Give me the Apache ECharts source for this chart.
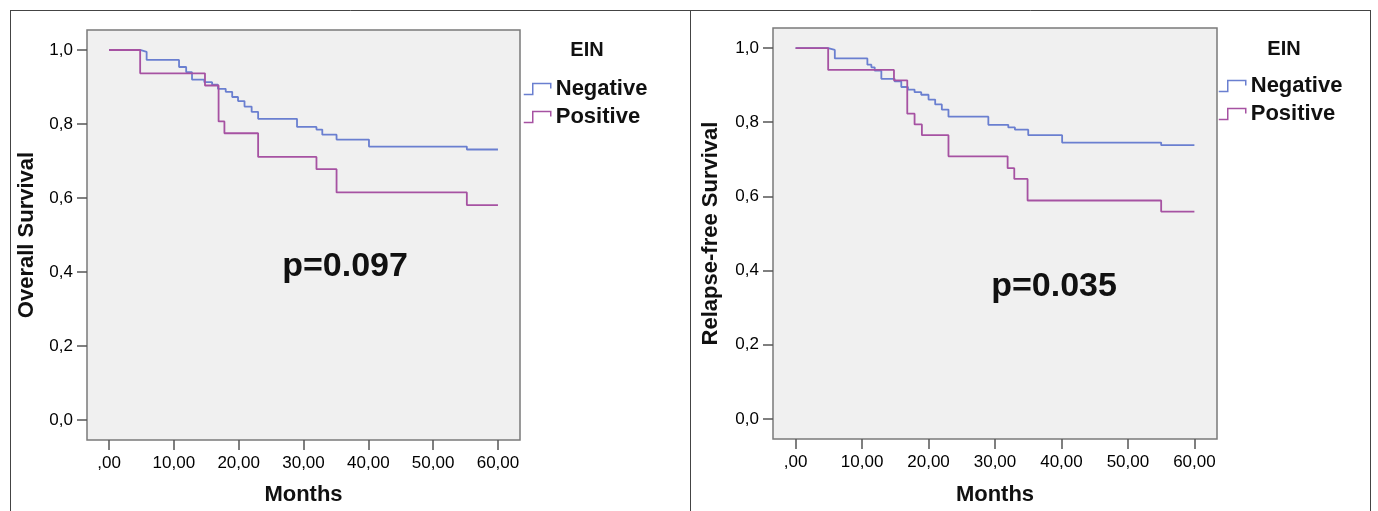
<!DOCTYPE html>
<html>
<head>
<meta charset="utf-8">
<script src="https://cdn.jsdelivr.net/npm/echarts@6/dist/echarts.min.js"></script>
<style>
html,body{margin:0;padding:0;background:#fff;}
#chart{width:1378px;height:511px;}
</style>
</head>
<body>
<div id="chart"></div>
<script>
// ---- data ----
const groups = ['Negative', 'Positive'];
const xTicks = [0, 10, 20, 30, 40, 50, 60];
const xTickLabels = [',00', '10,00', '20,00', '30,00', '40,00', '50,00', '60,00'];
const yTicks = [0, 0.2, 0.4, 0.6, 0.8, 1.0];
const yTickLabels = ['0,0', '0,2', '0,4', '0,6', '0,8', '1,0'];

// Overall survival (left panel)
const osNegT = [0, 4.8, 5.8, 10.8, 11.9, 12.8, 14.7, 15.9, 16.8, 18.0, 19.0, 19.9, 20.9, 22.0, 23.0, 29.0, 32.0, 32.9, 35.1, 40.1, 55.2, 60.0];
const osNegS = [1.0, 0.995, 0.973, 0.954, 0.940, 0.920, 0.913, 0.906, 0.895, 0.887, 0.873, 0.862, 0.847, 0.833, 0.814, 0.792, 0.785, 0.771, 0.758, 0.739, 0.731, 0.731];
const osPosT = [0, 4.8, 14.8, 16.9, 17.8, 23.0, 32.0, 35.1, 55.2, 60.0];
const osPosS = [1.0, 0.937, 0.904, 0.807, 0.775, 0.711, 0.678, 0.615, 0.581, 0.581];

// Relapse-free survival (right panel)
const rfsNegT = [0, 4.9, 5.9, 10.8, 11.4, 11.9, 12.9, 14.9, 15.9, 16.9, 17.9, 18.9, 20.0, 21.0, 22.0, 23.0, 29.0, 32.0, 33.0, 35.0, 40.1, 55.0, 60.0];
const rfsNegS = [1.0, 0.995, 0.972, 0.955, 0.948, 0.939, 0.917, 0.910, 0.895, 0.888, 0.881, 0.874, 0.861, 0.848, 0.834, 0.815, 0.793, 0.786, 0.780, 0.765, 0.745, 0.738, 0.738];
const rfsPosT = [0, 4.9, 14.8, 16.8, 17.9, 19.0, 23.0, 31.9, 32.9, 34.9, 55.0, 60.0];
const rfsPosS = [1.0, 0.941, 0.913, 0.823, 0.794, 0.765, 0.708, 0.676, 0.647, 0.589, 0.559, 0.559];

const pLeft = 'p=0.097';
const pRight = 'p=0.035';
const yTitles = ['Overall Survival', 'Relapse-free Survival'];
const xTitle = 'Months';
const legendTitle = 'EIN';

// ---- styling ----
const FONT = "'Liberation Sans', Arial, sans-serif";
const NEG = '#6a7fd0';
const POS = '#a652a2';
const zip = (t, s) => t.map((v, i) => [v, s[i]]);
const near = (arr, v) => arr.findIndex(a => Math.abs(a - v) < 1e-6);

function xAxis(gi) {
  return {
    type: 'value', gridIndex: gi, min: -3.4, max: 63.4,
    name: xTitle, nameLocation: 'middle', nameGap: gi === 0 ? 44 : 45,
    nameTextStyle: { fontFamily: FONT, fontSize: 22, fontWeight: 'bold', color: '#111' },
    axisLine: { show: false, onZero: false },
    splitLine: { show: false },
    axisTick: { show: true, customValues: xTicks, length: 10, lineStyle: { color: '#555', width: 1.5 } },
    axisLabel: {
      customValues: xTicks, margin: 15, fontFamily: FONT, fontSize: 17, color: '#000',
      formatter: v => xTickLabels[near(xTicks, v)]
    }
  };
}
function yAxis(gi) {
  return {
    type: 'value', gridIndex: gi, min: -0.054, max: 1.054,
    name: yTitles[gi], nameLocation: 'middle', nameRotate: 90, nameGap: gi === 0 ? 49 : 51,
    nameTextStyle: { fontFamily: FONT, fontSize: 22, fontWeight: 'bold', color: '#111' },
    axisLine: { show: false, onZero: false },
    splitLine: { show: false },
    axisTick: { show: true, customValues: yTicks, length: 10, lineStyle: { color: '#555', width: 1.5 } },
    axisLabel: {
      customValues: yTicks, margin: 14, fontFamily: FONT, fontSize: 17, color: '#000',
      formatter: v => yTickLabels[near(yTicks, v)]
    }
  };
}
function series(name, data, color, gi) {
  return {
    type: 'line', name, data, step: 'end', xAxisIndex: gi, yAxisIndex: gi,
    symbol: 'none', showSymbol: false, animation: false,
    lineStyle: { color, width: 1.8 }, itemStyle: { color }
  };
}
const ICON = 'path://M0,11 L9,11 L9,0 L27,0 L27,5';
function legend(left, top) {
  return {
    orient: 'vertical', left, top, padding: 0, itemWidth: 27, itemHeight: 11, itemGap: 6,
    icon: ICON, selectedMode: false,
    textStyle: { fontFamily: FONT, fontSize: 22, fontWeight: 'bold', color: '#111', lineHeight: 22 },
    data: [
      { name: groups[0], itemStyle: { color: 'rgba(0,0,0,0)', borderColor: NEG, borderWidth: 1.5 } },
      { name: groups[1], itemStyle: { color: 'rgba(0,0,0,0)', borderColor: POS, borderWidth: 1.5 } }
    ]
  };
}
const frame = { stroke: '#444', lineWidth: 1 };
const option = {
  animation: false,
  backgroundColor: '#fff',
  grid: [
    { left: 87, top: 30, width: 433, height: 417, show: true, backgroundColor: '#f0f0f0', borderColor: '#7a7a7a', borderWidth: 1.5 },
    { left: 773, top: 28, width: 444, height: 415, show: true, backgroundColor: '#f0f0f0', borderColor: '#7a7a7a', borderWidth: 1.5 }
  ],
  xAxis: [xAxis(0), xAxis(1)],
  yAxis: [yAxis(0), yAxis(1)],
  legend: [legend(523, 78), legend(1218, 75)],
  series: [
    series(groups[0], zip(osNegT, osNegS), NEG, 0),
    series(groups[1], zip(osPosT, osPosS), POS, 0),
    series(groups[0], zip(rfsNegT, rfsNegS), NEG, 1),
    series(groups[1], zip(rfsPosT, rfsPosS), POS, 1)
  ],
  graphic: [
    { type: 'line', shape: { x1: 10, y1: 10.5, x2: 1371, y2: 10.5 }, style: frame },
    { type: 'line', shape: { x1: 10.5, y1: 10, x2: 10.5, y2: 511 }, style: frame },
    { type: 'line', shape: { x1: 690.5, y1: 10, x2: 690.5, y2: 511 }, style: frame },
    { type: 'line', shape: { x1: 1370.5, y1: 10, x2: 1370.5, y2: 511 }, style: frame },
    { type: 'text', x: 587, y: 50, style: { text: legendTitle, font: "bold 20px " + FONT, fill: '#111', textAlign: 'center', textVerticalAlign: 'middle' } },
    { type: 'text', x: 1284, y: 49, style: { text: legendTitle, font: "bold 20px " + FONT, fill: '#111', textAlign: 'center', textVerticalAlign: 'middle' } },
    { type: 'text', x: 345, y: 267, style: { text: pLeft, font: "bold 34px " + FONT, fill: '#111', textAlign: 'center', textVerticalAlign: 'middle' } },
    { type: 'text', x: 1054, y: 287, style: { text: pRight, font: "bold 34px " + FONT, fill: '#111', textAlign: 'center', textVerticalAlign: 'middle' } }
  ]
};
const chart = echarts.init(document.getElementById('chart'), null, { renderer: 'canvas' });
chart.setOption(option);
</script>
</body>
</html>
